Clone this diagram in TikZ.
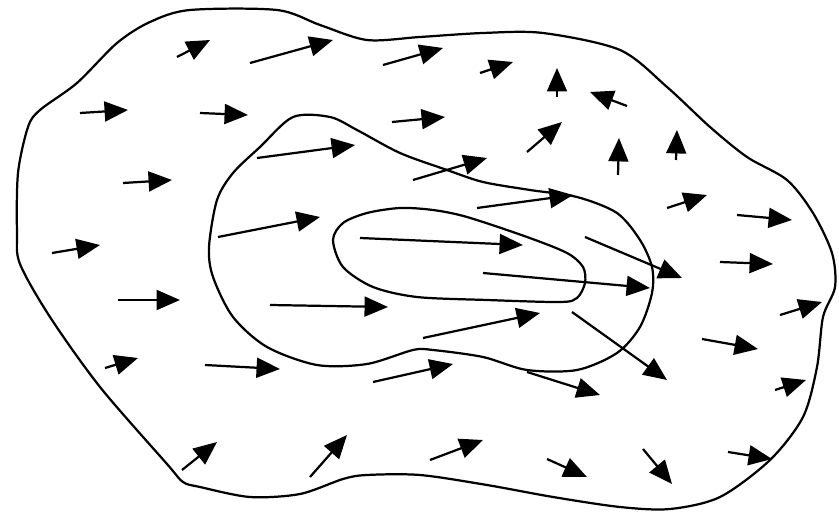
\documentclass[tikz,border=0pt]{standalone}
\usetikzlibrary{arrows.meta}

\tikzset{
  contour/.style={line width=1.9pt},
  fleche/.style={line width=1.9pt,-{Triangle[length=20pt,width=17pt]}}
}

\begin{document}
\begin{tikzpicture}[x=0.03cm,y=-0.03cm]

\useasboundingbox (0,0) rectangle (839,514);

% Contour extérieur
\draw[contour] plot[smooth cycle,tension=0.5] coordinates {
  (190,10) (277,10) (320,25) (367,40) (420,37) (483,33) (543,33) (620,50)
  (667,87) (710,127) (747,157) (787,180) (813,213) (832,253) (835,287)
  (823,317) (817,367) (803,417) (770,460) (720,497) (670,509) (620,507)
  (553,497) (487,485) (420,475) (367,475) (343,479) (300,494) (250,497)
  (200,487) (183,482) (167,464) (100,387) (50,317) (20,264) (17,233)
  (18,173) (28,127) (40,110) (77,83) (117,43) (150,22)};

% Contour intermédiaire
\draw[contour] plot[smooth cycle,tension=0.5] coordinates {
  (293,117) (330,117) (357,130) (400,153) (447,170) (483,182) (530,190)
  (577,197) (617,213) (640,240) (652,267) (652,293) (640,327) (617,353)
  (577,370) (527,370) (483,357) (433,350) (413,350) (367,364) (317,365)
  (267,347) (233,317) (213,277) (209,247) (217,200) (233,173) (260,147)};

% Contour intérieur
\draw[contour] plot[smooth cycle,tension=0.5] coordinates {
  (333,240) (343,223) (367,213) (400,208) (433,210) (467,217) (527,237)
  (567,253) (583,267) (585,283) (577,298) (560,302) (487,300) (417,297)
  (373,287) (343,267)};

% Flèches, partie haute
\draw[fleche] (177,57) -- (210,40);
\draw[fleche] (250,63) -- (333,40);
\draw[fleche] (383,65) -- (443,48);
\draw[fleche] (480,73) -- (513,62);
\draw[fleche] (557,97) -- (557,68);
\draw[fleche] (627,106) -- (590,92);
\draw[fleche] (80,113) -- (128,110);
\draw[fleche] (200,113) -- (248,115);
\draw[fleche] (392,122) -- (445,117);
\draw[fleche] (527,152) -- (562,122);
\draw[fleche] (618,175) -- (619,138);
\draw[fleche] (676,160) -- (677,130);
\draw[fleche] (257,158) -- (355,145);
\draw[fleche] (413,180) -- (487,158);
\draw[fleche] (123,183) -- (172,180);

% Flèches, partie centrale
\draw[fleche] (667,208) -- (707,195);
\draw[fleche] (737,215) -- (792,220);
\draw[fleche] (477,208) -- (573,195);
\draw[fleche] (52,253) -- (100,245);
\draw[fleche] (218,237) -- (320,217);
\draw[fleche] (360,238) -- (523,245);
\draw[fleche] (585,237) -- (682,278);
\draw[fleche] (483,273) -- (650,288);
\draw[fleche] (720,262) -- (773,264);
\draw[fleche] (118,300) -- (180,300);
\draw[fleche] (270,305) -- (388,307);
\draw[fleche] (780,315) -- (822,302);
\draw[fleche] (423,338) -- (540,313);
\draw[fleche] (572,312) -- (667,380);
\draw[fleche] (702,339) -- (758,349);

% Flèches, partie basse
\draw[fleche] (105,368) -- (138,358);
\draw[fleche] (205,365) -- (280,369);
\draw[fleche] (373,382) -- (453,364);
\draw[fleche] (527,372) -- (600,395);
\draw[fleche] (775,390) -- (806,380);
\draw[fleche] (182,470) -- (217,442);
\draw[fleche] (310,477) -- (347,435);
\draw[fleche] (430,460) -- (483,440);
\draw[fleche] (547,459) -- (587,477);
\draw[fleche] (643,449) -- (672,484);
\draw[fleche] (728,452) -- (772,459);

\end{tikzpicture}
\end{document}
